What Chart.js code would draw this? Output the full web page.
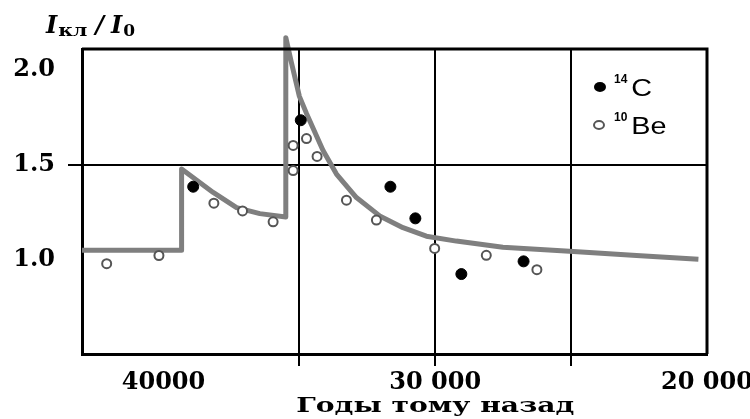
<!DOCTYPE html>
<html>
<head>
<meta charset="utf-8">
<script src="https://cdn.jsdelivr.net/npm/chart.js@4.4.1/dist/chart.umd.min.js"></script>
<style>
  html, body { margin: 0; padding: 0; background: #fff; }
  #wrap { width: 750px; height: 419px; position: relative; }
</style>
</head>
<body>
<div id="wrap"><canvas id="c"></canvas></div>
<script>
// ---- data ----
const curveYears  = [43000, 39335, 39335, 38173, 37312, 36456, 35500, 35500, 35290, 35000, 34739, 34129, 33636, 32901, 32044, 31187, 30327, 29224, 27511, 25059, 22596, 20316];
const curveValues = [1.048, 1.048, 1.477, 1.353, 1.273, 1.241, 1.223, 2.17, 2.036, 1.86, 1.77, 1.574, 1.45, 1.326, 1.229, 1.167, 1.122, 1.096, 1.064, 1.043, 1.02, 1.0];

const c14Years  = [38908, 34949, 31651, 30732, 29040, 26750];
const c14Values = [1.383, 1.734, 1.383, 1.216, 0.922, 0.989];

const be10Years  = [42092, 40169, 38147, 37092, 35967, 35230, 35230, 34739, 34349, 33268, 32166, 30022, 28122, 26260];
const be10Values = [0.977, 1.02, 1.296, 1.255, 1.198, 1.468, 1.601, 1.637, 1.543, 1.312, 1.207, 1.057, 1.021, 0.945];

const xTickValues = [40000, 35000, 30000, 25000, 20000];
const xTickLabels = {40000: '40000', 30000: '30 000', 20000: '20 000'};
const xGridValues = [35000, 30000, 25000];
const yTickValues = [1.0, 1.5, 2.0];
const yGridValues = [1.5];

const xTitle = 'Годы тому назад';
const legendLabels = [{sup: '14', main: 'C'}, {sup: '10', main: 'Be'}];

const toXY = (xs, ys) => xs.map((x, i) => ({x: x, y: ys[i]}));

const decorPlugin = {
  id: 'decor',
  afterDraw(chart) {
    const ctx = chart.ctx;
    const a = chart.chartArea;
    ctx.save();
    // frame top/right
    ctx.strokeStyle = '#000';
    ctx.lineWidth = 3;
    ctx.beginPath();
    ctx.moveTo(a.left, a.top);
    ctx.lineTo(a.right, a.top);
    ctx.lineTo(a.right, a.bottom);
    ctx.stroke();

    // y title  I_кл / I_0
    ctx.fillStyle = '#000';
    ctx.textBaseline = 'alphabetic';
    let x = 46, base = 33;
    const big = 'bold italic 24px "DejaVu Serif"';
    const sub = 'bold 17px "DejaVu Serif"';
    ctx.font = big; ctx.fillText('I', x, base); x += ctx.measureText('I').width + 1;
    ctx.save();
    ctx.font = sub;
    const kw = ctx.measureText('кл').width;
    ctx.translate(x, base + 3); ctx.scale(29 / kw, 1); ctx.fillText('кл', 0, 0);
    ctx.restore();
    x += 29 + 8;
    ctx.font = big; ctx.fillText('/', x, base); x += ctx.measureText('/').width + 7;
    ctx.fillText('I', x, base); x += ctx.measureText('I').width + 1;
    ctx.font = sub; ctx.fillText('0', x, base + 3);

    // x title, stretched horizontally
    ctx.font = 'bold 20px "DejaVu Serif"';
    const w = ctx.measureText(xTitle).width;
    const target = 278;
    const sx = target / w;
    const cx = (chart.scales.x.getPixelForValue(30000));
    ctx.save();
    ctx.translate(cx - target / 2, 412);
    ctx.scale(sx, 1);
    ctx.textAlign = 'left';
    ctx.fillText(xTitle, 0, 0);
    ctx.restore();

    // legend
    const lx = a.right - 107, ly = [87, 125];
    ctx.fillStyle = '#000';
    ctx.beginPath(); ctx.ellipse(lx, ly[0], 6, 5, 0, 0, Math.PI * 2); ctx.fill();
    ctx.fillStyle = '#fff';
    ctx.strokeStyle = '#555';
    ctx.lineWidth = 2;
    ctx.beginPath(); ctx.ellipse(lx - 1, ly[1], 5, 4, 0, 0, Math.PI * 2); ctx.fill(); ctx.stroke();
    ctx.fillStyle = '#000';
    legendLabels.forEach((l, i) => {
      let tx = lx + 14;
      ctx.font = 'bold 12px "Liberation Sans"';
      ctx.fillText(l.sup, tx, ly[i] - 4);
      tx += ctx.measureText(l.sup).width + 4;
      ctx.save();
      ctx.font = '24px "Liberation Sans"';
      ctx.translate(tx, ly[i] + 9);
      ctx.scale(1.2, 1);
      ctx.fillText(l.main, 0, 0);
      ctx.restore();
    });
    ctx.restore();
  }
};

new Chart(document.getElementById('c'), {
  type: 'scatter',
  data: {
    datasets: [
      {
        label: '14C',
        data: toXY(c14Years, c14Values),
        pointRadius: 5.5,
        pointBackgroundColor: '#000',
        pointBorderColor: '#000',
        pointBorderWidth: 1,
        showLine: false,
        order: 0
      },
      {
        label: '10Be',
        data: toXY(be10Years, be10Values),
        pointRadius: 4.5,
        pointBackgroundColor: '#fff',
        pointBorderColor: '#555',
        pointBorderWidth: 2,
        showLine: false,
        order: 1
      },
      {
        label: 'model',
        data: toXY(curveYears, curveValues),
        showLine: true,
        borderColor: '#7f7f7f',
        borderWidth: 5,
        borderJoinStyle: 'round',
        tension: 0,
        pointRadius: 0,
        clip: false,
        order: 2
      }
    ]
  },
  options: {
    responsive: true,
    maintainAspectRatio: false,
    animation: false,
    layout: { padding: { top: 49, right: 43, left: 0, bottom: 0 } },
    plugins: { legend: { display: false }, tooltip: { enabled: false } },
    scales: {
      x: {
        type: 'linear',
        reverse: true,
        min: 20000,
        max: 43000,
        afterBuildTicks: s => { s.ticks = xTickValues.map(v => ({value: v})); },
        afterFit: s => { s.height = 65; s.paddingLeft = 0; s.paddingRight = 0; },
        ticks: {
          autoSkip: false,
          maxRotation: 0,
          padding: 2,
          color: '#000',
          font: { family: '"DejaVu Serif"', weight: 'bold', size: 24 },
          callback: v => xTickLabels[v] || ''
        },
        grid: {
          lineWidth: 2,
          tickLength: 12,
          color: c => (c.tick && xGridValues.includes(c.tick.value)) ? '#000' : 'rgba(0,0,0,0)',
          tickColor: c => (c.tick && xGridValues.includes(c.tick.value)) ? '#000' : 'rgba(0,0,0,0)'
        },
        border: { display: true, color: '#000', width: 3 }
      },
      y: {
        type: 'linear',
        min: 0.5,
        max: 2.11,
        afterBuildTicks: s => { s.ticks = yTickValues.map(v => ({value: v})); },
        afterFit: s => { s.width = 82; },
        ticks: {
          padding: 13,
          color: '#000',
          font: { family: '"DejaVu Serif"', weight: 'bold', size: 24 },
          callback: v => Number(v).toFixed(1)
        },
        grid: {
          lineWidth: 2,
          tickLength: 14,
          color: c => (c.tick && yGridValues.includes(c.tick.value)) ? '#000' : 'rgba(0,0,0,0)',
          tickColor: c => (c.tick && yGridValues.includes(c.tick.value)) ? '#000' : 'rgba(0,0,0,0)'
        },
        border: { display: true, color: '#000', width: 3 }
      }
    }
  },
  plugins: [decorPlugin]
});
</script>
</body>
</html>
